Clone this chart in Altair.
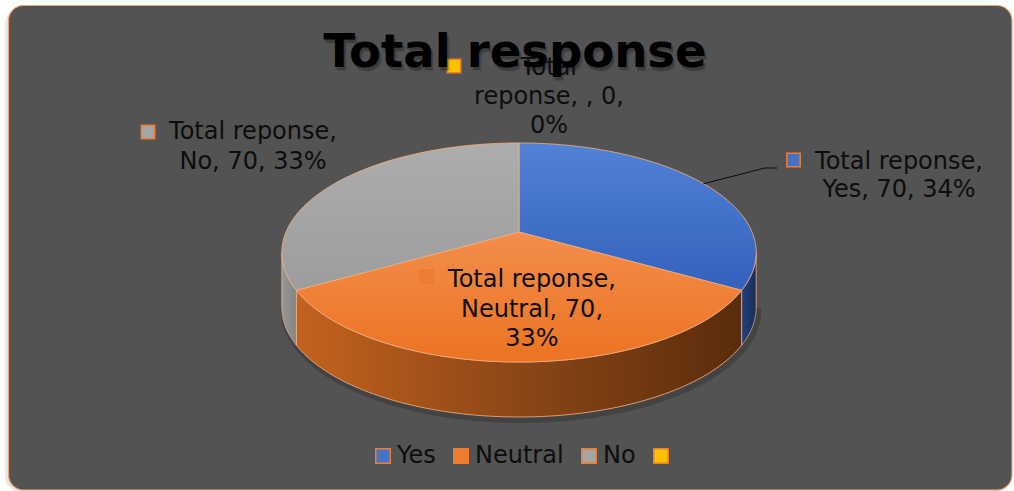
import altair as alt
import numpy as np
import pandas as pd

# ---------------- data ----------------
CATEGORIES = ["Yes", "Neutral", "No", ""]
VALUES = [70, 70, 70, 0]
PERCENTS = [34, 33, 33, 0]
SERIES = "Total reponse"
TITLE = "Total response"

# ---------------- styles / layout ----------------
W, H = 1014, 491
FONT = "DejaVu Sans"
CX, CY = 519.0, 232.0          # projected pie centre
A, B, K = 233.0, 105.7, 0.187  # ellipse radii and perspective factor
DEPTH = 55.0
N_STEPS = 90

BASE = {"Yes": "#4472C4", "Neutral": "#ED7D31", "No": "#A5A5A5", "": "#FFC000"}
TOP_GRAD = {"Yes": ("#5282D6", "#3361BC"), "Neutral": ("#F28E4B", "#EC7322"),
            "No": ("#ADADAD", "#9D9D9D")}
SIDE_GRAD = {"Yes": ["#22417A", "#182E5A"], "Neutral": ["#C4621F", "#8C4617", "#5A2C0C"],
             "No": ["#979797", "#858585"]}
EDGE = "#F4B183"
KEY_STROKE = "#ED7D31"

# label blocks: (x centre, first baseline, line height, key-square x, key-square y, wrap style)
LABEL_LAYOUT = {
    "Yes": (899, 169, 28, 793.5, 160, "two"),
    "Neutral": (532, 287, 29.5, 426.5, 276.5, "three"),
    "No": (253, 139, 30, 148, 132, "two"),
    "": (549, 75, 29, 454, 66, "split"),
}
LEADER_BEND = {"Yes": [(765, 168), (777, 168)]}


def proj(theta_deg):
    t = np.radians(theta_deg)
    u = np.sin(t)
    v = -np.cos(t)
    den = 1 - K * v
    return CX + A * u / den, CY + B * v / den


total = float(sum(VALUES))
cum = np.concatenate([[0.0], np.cumsum(VALUES)]) / total * 360.0

xs = alt.Scale(domain=[0, W], nice=False, zero=False)
ys = alt.Scale(domain=[0, H], nice=False, zero=False, reverse=True)


def X(f="x"):
    return alt.X(f"{f}:Q", scale=xs, axis=None)


def Y(f="y"):
    return alt.Y(f"{f}:Q", scale=ys, axis=None)


def poly_layer(df, fill, stroke=EDGE, sw=0.8, opacity=1.0):
    return alt.Chart(df).mark_line(filled=True, fill=fill, stroke=stroke, strokeWidth=sw,
                                   opacity=opacity, strokeJoin="round").encode(
        x=X(), y=Y(), order=alt.Order("i:Q"))


layers = []

# card background
one = pd.DataFrame({"a": [0]})
layers.append(alt.Chart(one).mark_rect(cornerRadius=16, fill="#D9D9D9", opacity=0.6).encode(
    x=alt.value(5), x2=alt.value(1010), y=alt.value(8), y2=alt.value(492)))
layers.append(alt.Chart(one).mark_rect(cornerRadius=15, fill="#535353", stroke="#F0A46E",
                                       strokeWidth=1.2).encode(
    x=alt.value(8.5), x2=alt.value(1012), y=alt.value(5.5), y2=alt.value(490)))

# pie shadow
lo = np.degrees(np.arccos(-K))
hi = 360 - lo
th = np.linspace(lo, hi, N_STEPS)
sx, sy = proj(th)
shadow = pd.DataFrame({"i": np.arange(len(th)), "x": sx + 2, "y": sy + DEPTH + 3})
layers.append(alt.Chart(shadow).mark_line(stroke="#2E2E2E", strokeWidth=6, opacity=0.4,
                                          strokeCap="round").encode(
    x=X(), y=Y(), order=alt.Order("i:Q")))

# sides
for ci, cat in enumerate(CATEGORIES):
    s, e = cum[ci], cum[ci + 1]
    a, b = max(s, lo), min(e, hi)
    if VALUES[ci] == 0 or a >= b:
        continue
    th = np.linspace(a, b, N_STEPS)
    px, py = proj(th)
    xx = np.concatenate([px, px[::-1], px[:1]])
    yy = np.concatenate([py, py[::-1] + DEPTH, py[:1]])
    df = pd.DataFrame({"i": np.arange(len(xx)), "x": xx, "y": yy})
    stops = SIDE_GRAD[cat]
    grad = alt.LinearGradient(gradient="linear", x1=0, y1=0, x2=1, y2=0,
                              stops=[alt.GradientStop(offset=j / (len(stops) - 1), color=c)
                                     for j, c in enumerate(stops)])
    layers.append(poly_layer(df, grad))

# top faces
for ci, cat in enumerate(CATEGORIES):
    s, e = cum[ci], cum[ci + 1]
    if VALUES[ci] == 0:
        continue
    th = np.linspace(s, e, N_STEPS)
    px, py = proj(th)
    xx = np.concatenate([[CX], px, [CX]])
    yy = np.concatenate([[CY], py, [CY]])
    df = pd.DataFrame({"i": np.arange(len(xx)), "x": xx, "y": yy})
    c0, c1 = TOP_GRAD[cat]
    grad = alt.LinearGradient(gradient="linear", x1=0, y1=0, x2=0, y2=1,
                              stops=[alt.GradientStop(offset=0, color=c0),
                                     alt.GradientStop(offset=1, color=c1)])
    layers.append(poly_layer(df, grad))

# leader lines
for ci, cat in enumerate(CATEGORIES):
    if cat not in LEADER_BEND:
        continue
    mid = (cum[ci] + cum[ci + 1]) / 2
    mx, my = proj(mid)
    pts = [(float(mx), float(my))] + LEADER_BEND[cat]
    df = pd.DataFrame({"i": range(len(pts)), "x": [p[0] for p in pts], "y": [p[1] for p in pts]})
    layers.append(alt.Chart(df).mark_line(color="#0D0D0D", strokeWidth=1.1).encode(
        x=X(), y=Y(), order=alt.Order("i:Q")))

# data labels
rows = []
for cat, val, pct in zip(CATEGORIES, VALUES, PERCENTS):
    lx, ly, lh, kx, ky, style = LABEL_LAYOUT[cat]
    if style == "two":
        lines = [f"{SERIES},", f"{cat}, {val}, {pct}%"]
    elif style == "three":
        lines = [f"{SERIES},", f"{cat}, {val},", f"{pct}%"]
    else:
        w1, w2 = SERIES.split(" ", 1)
        lines = [w1, f"{w2}, {cat}, {val},", f"{pct}%"]
    rows.append({"cat": cat, "text": "\n".join(lines), "x": lx, "y": ly, "lh": lh,
                 "kx": kx, "ky": ky, "fill": BASE[cat]})
lab = pd.DataFrame(rows)

layers.append(alt.Chart(lab).mark_square(size=180, stroke=KEY_STROKE, strokeWidth=1.5,
                                         opacity=1).encode(
    x=X("kx"), y=Y("ky"), fill=alt.Fill("fill:N", scale=None)))
for _, r in lab.iterrows():
    layers.append(alt.Chart(lab[lab["cat"] == r["cat"]]).mark_text(
        font=FONT, fontSize=24, color="#0D0D0D", align="center", baseline="alphabetic",
        lineBreak="\n", lineHeight=float(r["lh"])).encode(
        x=X(), y=Y(), text="text:N"))

# title with soft shadow
for dx, dy, op in [(2.5, 3.5, 0.18), (1.5, 2.5, 0.25)]:
    layers.append(alt.Chart(one).mark_text(text=TITLE, font=FONT, fontSize=46.5, fontWeight="bold",
                                           color="#1A1A1A", opacity=op, align="center",
                                           baseline="alphabetic").encode(
        x=alt.value(515 + dx), y=alt.value(67 + dy)))
layers.append(alt.Chart(one).mark_text(text=TITLE, font=FONT, fontSize=46.5, fontWeight="bold",
                                       color="#000000", align="center",
                                       baseline="alphabetic").encode(
    x=alt.value(515), y=alt.value(67)))

# legend
leg = pd.DataFrame({"cat": CATEGORIES})
layers.append(alt.Chart(leg).mark_square(opacity=0, stroke=KEY_STROKE, strokeWidth=1.5).encode(
    x=alt.value(-50), y=alt.value(-50),
    color=alt.Color("cat:N", scale=alt.Scale(domain=CATEGORIES,
                                              range=[BASE[c] for c in CATEGORIES]),
                    legend=alt.Legend(orient="none", legendX=371, legendY=444,
                                      direction="horizontal", title=None, symbolType="square",
                                      symbolSize=210, symbolStrokeColor=KEY_STROKE,
                                      symbolStrokeWidth=1.5, symbolOpacity=1,
                                      labelFont=FONT, labelFontSize=24, labelColor="#0D0D0D",
                                      labelOffset=2, columnPadding=13, padding=0,
                                      labelLimit=0))))

chart = alt.layer(*layers).properties(
    width=W, height=H, padding=0, autosize=alt.AutoSizeParams(type="none"),
    background="white"
).configure_view(stroke=None)

chart.save("out.html", embed_options={"renderer": "svg", "actions": False})
